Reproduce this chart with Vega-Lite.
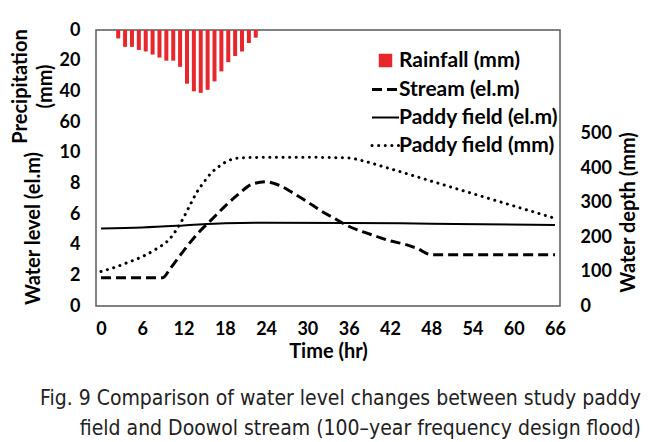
{
  "$schema": "https://vega.github.io/schema/vega-lite/v6.json",
  "autosize": {"type": "none"},
  "width": 464,
  "height": 276,
  "padding": {"left": 96, "top": 30, "right": 96, "bottom": 136},
  "background": "white",
  "title": {
    "text": ["Fig. 9 Comparison of water level changes between study paddy", "field and Doowol stream (100–year frequency design flood)"],
    "orient": "bottom",
    "anchor": "end",
    "align": "right",
    "frame": "group",
    "dx": 81,
    "offset": 27,
    "font": "DejaVu Sans Condensed, Liberation Sans, sans-serif",
    "fontSize": 21,
    "fontWeight": "normal",
    "lineHeight": 30,
    "color": "#222222"
  },
  "datasets": {
    "rain": [
      {"t": 2.5, "p": 5.5, "series": "Rainfall (mm)"},
      {"t": 3.5, "p": 11, "series": "Rainfall (mm)"},
      {"t": 4.5, "p": 11, "series": "Rainfall (mm)"},
      {"t": 5.5, "p": 13, "series": "Rainfall (mm)"},
      {"t": 6.5, "p": 14, "series": "Rainfall (mm)"},
      {"t": 7.5, "p": 16, "series": "Rainfall (mm)"},
      {"t": 8.5, "p": 18, "series": "Rainfall (mm)"},
      {"t": 9.5, "p": 20, "series": "Rainfall (mm)"},
      {"t": 10.5, "p": 20, "series": "Rainfall (mm)"},
      {"t": 11.5, "p": 24, "series": "Rainfall (mm)"},
      {"t": 12.5, "p": 35, "series": "Rainfall (mm)"},
      {"t": 13.5, "p": 40, "series": "Rainfall (mm)"},
      {"t": 14.5, "p": 41, "series": "Rainfall (mm)"},
      {"t": 15.5, "p": 39, "series": "Rainfall (mm)"},
      {"t": 16.5, "p": 33.5, "series": "Rainfall (mm)"},
      {"t": 17.5, "p": 27, "series": "Rainfall (mm)"},
      {"t": 18.5, "p": 21, "series": "Rainfall (mm)"},
      {"t": 19.5, "p": 17, "series": "Rainfall (mm)"},
      {"t": 20.5, "p": 14, "series": "Rainfall (mm)"},
      {"t": 21.5, "p": 8.5, "series": "Rainfall (mm)"},
      {"t": 22.5, "p": 5, "series": "Rainfall (mm)"}
    ],
    "stream": [
      {"t": 0, "level": 1.85, "series": "Stream (el.m)"},
      {"t": 3, "level": 1.85, "series": "Stream (el.m)"},
      {"t": 6, "level": 1.85, "series": "Stream (el.m)"},
      {"t": 9, "level": 1.85, "series": "Stream (el.m)"},
      {"t": 10, "level": 2.4, "series": "Stream (el.m)"},
      {"t": 12, "level": 3.6, "series": "Stream (el.m)"},
      {"t": 14, "level": 4.7, "series": "Stream (el.m)"},
      {"t": 16, "level": 5.6, "series": "Stream (el.m)"},
      {"t": 18, "level": 6.5, "series": "Stream (el.m)"},
      {"t": 20, "level": 7.3, "series": "Stream (el.m)"},
      {"t": 22, "level": 7.95, "series": "Stream (el.m)"},
      {"t": 24, "level": 8.1, "series": "Stream (el.m)"},
      {"t": 26, "level": 7.85, "series": "Stream (el.m)"},
      {"t": 28, "level": 7.35, "series": "Stream (el.m)"},
      {"t": 30, "level": 6.8, "series": "Stream (el.m)"},
      {"t": 32, "level": 6.2, "series": "Stream (el.m)"},
      {"t": 34, "level": 5.7, "series": "Stream (el.m)"},
      {"t": 36, "level": 5.2, "series": "Stream (el.m)"},
      {"t": 38, "level": 4.85, "series": "Stream (el.m)"},
      {"t": 40, "level": 4.55, "series": "Stream (el.m)"},
      {"t": 42, "level": 4.25, "series": "Stream (el.m)"},
      {"t": 44, "level": 4.05, "series": "Stream (el.m)"},
      {"t": 46, "level": 3.75, "series": "Stream (el.m)"},
      {"t": 48, "level": 3.35, "series": "Stream (el.m)"},
      {"t": 54, "level": 3.35, "series": "Stream (el.m)"},
      {"t": 60, "level": 3.35, "series": "Stream (el.m)"},
      {"t": 66, "level": 3.35, "series": "Stream (el.m)"}
    ],
    "paddyLevel": [
      {"t": 0, "level": 5.05, "series": "Paddy field (el.m)"},
      {"t": 6, "level": 5.12, "series": "Paddy field (el.m)"},
      {"t": 12, "level": 5.25, "series": "Paddy field (el.m)"},
      {"t": 18, "level": 5.4, "series": "Paddy field (el.m)"},
      {"t": 24, "level": 5.43, "series": "Paddy field (el.m)"},
      {"t": 36, "level": 5.42, "series": "Paddy field (el.m)"},
      {"t": 48, "level": 5.37, "series": "Paddy field (el.m)"},
      {"t": 66, "level": 5.28, "series": "Paddy field (el.m)"}
    ],
    "paddyDepth": [
      {"t": 0, "depth": 100, "series": "Paddy field (mm)"},
      {"t": 2, "depth": 112, "series": "Paddy field (mm)"},
      {"t": 4, "depth": 127, "series": "Paddy field (mm)"},
      {"t": 6, "depth": 143, "series": "Paddy field (mm)"},
      {"t": 8, "depth": 165, "series": "Paddy field (mm)"},
      {"t": 10, "depth": 195, "series": "Paddy field (mm)"},
      {"t": 11, "depth": 222, "series": "Paddy field (mm)"},
      {"t": 12, "depth": 256, "series": "Paddy field (mm)"},
      {"t": 13, "depth": 295, "series": "Paddy field (mm)"},
      {"t": 14, "depth": 332, "series": "Paddy field (mm)"},
      {"t": 15, "depth": 360, "series": "Paddy field (mm)"},
      {"t": 16, "depth": 385, "series": "Paddy field (mm)"},
      {"t": 17, "depth": 402, "series": "Paddy field (mm)"},
      {"t": 18, "depth": 416, "series": "Paddy field (mm)"},
      {"t": 19, "depth": 425, "series": "Paddy field (mm)"},
      {"t": 20, "depth": 429, "series": "Paddy field (mm)"},
      {"t": 24, "depth": 431, "series": "Paddy field (mm)"},
      {"t": 30, "depth": 431, "series": "Paddy field (mm)"},
      {"t": 36, "depth": 429, "series": "Paddy field (mm)"},
      {"t": 38, "depth": 421, "series": "Paddy field (mm)"},
      {"t": 42, "depth": 398, "series": "Paddy field (mm)"},
      {"t": 48, "depth": 362, "series": "Paddy field (mm)"},
      {"t": 54, "depth": 326, "series": "Paddy field (mm)"},
      {"t": 60, "depth": 290, "series": "Paddy field (mm)"},
      {"t": 66, "depth": 254, "series": "Paddy field (mm)"}
    ]
  },
  "encoding": {
    "x": {
      "field": "t",
      "type": "quantitative",
      "scale": {"domain": [0, 66], "nice": false, "zero": false},
      "axis": {
        "values": [0, 6, 12, 18, 24, 30, 36, 42, 48, 54, 60, 66],
        "title": "Time (hr)",
        "labelPadding": 14,
        "titlePadding": 3,
        "labelFlush": false
      }
    },
    "color": {
      "field": "series",
      "type": "nominal",
      "scale": {
        "domain": ["Rainfall (mm)", "Stream (el.m)", "Paddy field (el.m)", "Paddy field (mm)"],
        "range": ["#e8272c", "black", "black", "black"]
      },
      "legend": {
        "title": null,
        "orient": "none",
        "legendX": 279,
        "legendY": 20,
        "symbolSize": 729,
        "rowPadding": 6,
        "labelOffset": 3,
        "labelFont": "Lato",
        "labelFontWeight": "bold",
        "labelFontSize": 21,
        "labelColor": "black",
        "labelLimit": 300,
        "encode": {
          "symbols": {
            "update": {
              "shape": {"signal": "datum.value === 'Rainfall (mm)' ? 'square' : 'stroke'"},
              "size": {"signal": "datum.value === 'Rainfall (mm)' ? 110 : 729"},
              "fill": {"signal": "datum.value === 'Rainfall (mm)' ? '#e8272c' : 'transparent'"},
              "stroke": {"signal": "datum.value === 'Rainfall (mm)' ? 'transparent' : 'black'"},
              "strokeWidth": {"signal": "datum.value === 'Paddy field (el.m)' ? 2 : 3"},
              "strokeDash": {"signal": "datum.value === 'Stream (el.m)' ? [10, 5] : (datum.value === 'Paddy field (mm)' ? [0.1, 6.5] : [1, 0])"},
              "strokeCap": {"signal": "datum.value === 'Paddy field (mm)' ? 'round' : 'butt'"},
              "opacity": {"value": 1}
            }
          }
        }
      }
    }
  },
  "layer": [
    {
      "data": {"name": "rain"},
      "mark": {"type": "bar", "size": 4},
      "encoding": {
        "y": {
          "field": "p",
          "type": "quantitative",
          "scale": {"domain": [0, 180], "reverse": true, "nice": false},
          "axis": {
            "orient": "left",
            "values": [0, 20, 40, 60],
            "labelPadding": 16,
            "title": ["Precipitation", "(mm)"],
            "titleAngle": -90,
            "titleAlign": "center",
            "titleBaseline": "middle",
            "titleLineHeight": 25,
            "titleX": -76,
            "titleY": 56
          }
        }
      }
    },
    {
      "layer": [
        {
          "data": {"name": "stream"},
          "mark": {"type": "line", "strokeWidth": 3, "strokeDash": [10, 5], "interpolate": "monotone"},
          "encoding": {
            "y": {
              "field": "level",
              "type": "quantitative",
              "scale": {"domain": [0, 18], "nice": false},
              "axis": {
                "orient": "left",
                "values": [0, 2, 4, 6, 8, 10],
                "labelPadding": 16,
                "title": "Water level (el.m)",
                "titleAngle": -90,
                "titleAlign": "center",
                "titleBaseline": "middle",
                "titleX": -63,
                "titleY": 198
              }
            }
          }
        },
        {
          "data": {"name": "paddyLevel"},
          "mark": {"type": "line", "strokeWidth": 2, "interpolate": "monotone"},
          "encoding": {
            "y": {"field": "level", "type": "quantitative"}
          }
        }
      ]
    },
    {
      "data": {"name": "paddyDepth"},
      "mark": {"type": "line", "strokeWidth": 3, "strokeDash": [0.1, 6.5], "strokeCap": "round", "interpolate": "monotone"},
      "encoding": {
        "y": {
          "field": "depth",
          "type": "quantitative",
          "scale": {"domain": [0, 800], "nice": false},
          "axis": {
            "orient": "right",
            "values": [0, 100, 200, 300, 400, 500],
            "labelPadding": 20,
            "title": "Water depth (mm)",
            "titleAngle": -90,
            "titleAlign": "center",
            "titleBaseline": "middle",
            "titleX": 68,
            "titleY": 182
          }
        }
      }
    }
  ],
  "resolve": {"scale": {"y": "independent"}},
  "config": {
    "font": "Lato",
    "view": {"stroke": "#595959", "strokeWidth": 1.5},
    "axis": {
      "labelFont": "Lato",
      "labelFontWeight": "bold",
      "labelFontSize": 18,
      "labelColor": "black",
      "titleFont": "Lato",
      "titleFontWeight": "bold",
      "titleFontSize": 20,
      "titleColor": "black",
      "ticks": false,
      "domain": false,
      "grid": false
    }
  }
}
